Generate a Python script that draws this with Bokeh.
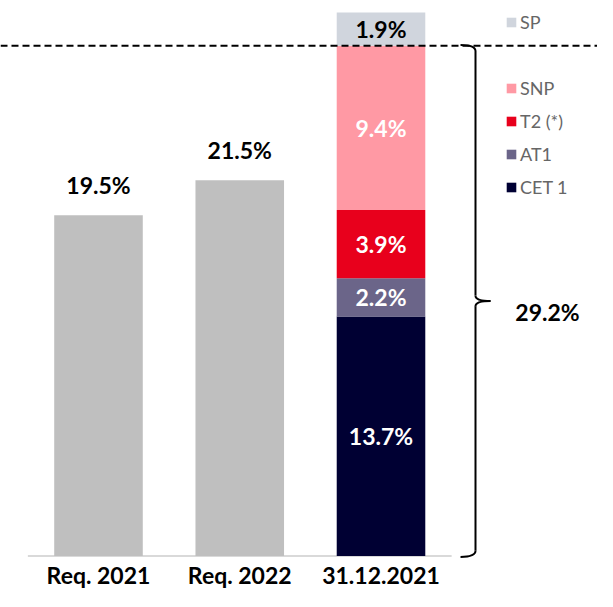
from bokeh.plotting import figure
from bokeh.models import ColumnDataSource, Legend, LegendItem, Span, FixedTicker, Range1d
from bokeh.core.properties import value
from bokeh.embed import file_html
from bokeh.resources import INLINE

# ---- data ----
categories = ["Req. 2021", "Req. 2022", "31.12.2021"]
req_values = [19.5, 21.5]
stack_names = ["CET 1", "AT1", "T2 (*)", "SNP", "SP"]
stack_values = [13.7, 2.2, 3.9, 9.4, 1.9]
stack_colors = ["#000033", "#6B6589", "#E8001C", "#FF99A4", "#D0D5DD"]
stack_label_colors = ["white", "white", "white", "white", "black"]
threshold = 29.2
threshold_label = "29.2%"

FONT = "Lato"
BAR_W = 0.627

p = figure(width=597, height=591,
           x_range=Range1d(-0.6938, 3.5327), y_range=Range1d(-0.142, 31.79),
           output_backend="svg", toolbar_location=None,
           min_border_left=0, min_border_right=0, min_border_top=0, min_border_bottom=30)
p.outline_line_color = None
p.grid.visible = False
p.yaxis.visible = False
p.background_fill_color = "white"

# baseline
n = len(categories)
p.segment(x0=[-0.5], x1=[n - 0.5], y0=[0], y1=[0], line_color="#D9D9D9", line_width=2)

# requirement bars
req_src = ColumnDataSource(dict(x=list(range(len(req_values))), top=req_values,
                                lab=[f"{v:.1f}%" for v in req_values]))
p.vbar(x="x", top="top", bottom=0, width=BAR_W, source=req_src,
       fill_color="#BFBFBF", line_color=None)
p.text(x="x", y="top", text="lab", source=req_src, y_offset=-30,
       text_align="center", text_baseline="middle",
       text_font=value(FONT), text_font_style="bold", text_font_size="23px", text_color="black")

# stacked bar
xs = n - 1
bottoms, tops = [], []
acc = 0.0
for v in stack_values:
    bottoms.append(acc)
    acc += v
    tops.append(acc)
stack_src = ColumnDataSource(dict(x=[xs] * len(stack_values), bottom=bottoms, top=tops,
                                  color=stack_colors, name=stack_names,
                                  mid=[(b + t) / 2 for b, t in zip(bottoms, tops)],
                                  lab=[f"{v:.1f}%" for v in stack_values],
                                  lc=stack_label_colors))
renderers = {}
for i, nm in enumerate(stack_names):
    r = p.vbar(x=[xs], bottom=[bottoms[i]], top=[tops[i]], width=BAR_W,
               fill_color=stack_colors[i], line_color=None)
    renderers[nm] = r
p.text(x="x", y="mid", text="lab", source=stack_src, text_color="lc",
       text_align="center", text_baseline="middle",
       text_font=value(FONT), text_font_style="bold", text_font_size="23px")

# dashed threshold line
p.add_layout(Span(location=threshold, dimension="width", line_color="black",
                  line_width=2, line_dash="7 4"))

# brace
xb, xl, xt = 2.669, 2.563, 2.775
mid = threshold / 2
kw = dict(line_color="black", line_width=2)
p.quadratic(x0=[xl], y0=[threshold + 0.05], x1=[xb], y1=[threshold - 0.3],
            cx=[xb], cy=[threshold + 0.05], **kw)
p.segment(x0=[xb], y0=[threshold - 0.3], x1=[xb], y1=[mid + 0.3], **kw)
p.quadratic(x0=[xb], y0=[mid + 0.3], x1=[xt], y1=[mid], cx=[xb], cy=[mid], **kw)
p.quadratic(x0=[xt], y0=[mid], x1=[xb], y1=[mid - 0.3], cx=[xb], cy=[mid], **kw)
p.segment(x0=[xb], y0=[mid - 0.3], x1=[xb], y1=[0.3], **kw)
p.quadratic(x0=[xb], y0=[0.3], x1=[xl], y1=[-0.05], cx=[xb], cy=[-0.05], **kw)
p.text(x=[3.179], y=[mid], text=[threshold_label], y_offset=11,
       text_align="center", text_baseline="middle",
       text_font=value(FONT), text_font_style="bold", text_font_size="23px", text_color="black")

# x axis
p.xaxis.ticker = FixedTicker(ticks=list(range(n)))
p.xaxis.major_label_overrides = {i: c for i, c in enumerate(categories)}
p.xaxis.axis_line_color = None
p.xaxis.major_tick_line_color = None
p.xaxis.minor_tick_line_color = None
p.xaxis.major_tick_out = 0
p.xaxis.major_tick_in = 0
p.xaxis.minor_tick_out = 0
p.xaxis.minor_tick_in = 0
p.xaxis.major_label_standoff = 2
p.xaxis.major_label_text_font = FONT
p.xaxis.major_label_text_font_style = "bold"
p.xaxis.major_label_text_font_size = "23px"
p.xaxis.major_label_text_color = "black"

# legends
def make_legend(names, loc):
    lg = Legend(items=[LegendItem(label=nm, renderers=[renderers[nm]]) for nm in names],
                location=loc, orientation="vertical",
                glyph_width=12, glyph_height=12, label_height=22, spacing=11,
                label_standoff=3, padding=0, margin=0,
                label_text_font=FONT, label_text_font_size="18px", label_text_color="#666666",
                background_fill_alpha=0, border_line_alpha=0)
    return lg

p.add_layout(make_legend(["SP"], (505, 525)))
p.add_layout(make_legend(["SNP", "T2 (*)", "AT1", "CET 1"], (505, 360)))

open("out.html", "w").write(file_html(p, INLINE))
